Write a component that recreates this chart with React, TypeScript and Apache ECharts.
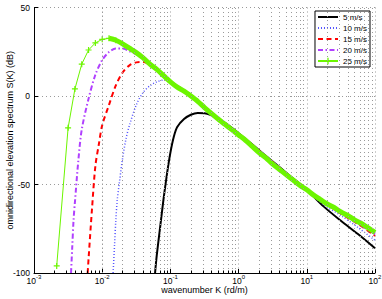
import React, { useEffect, useRef } from "react";
import * as echarts from "echarts";

// log10(K) positions and S(K) in dB
const k5Exp = [-1.225, -1.2, -1.15, -1.1, -1.05, -1.0, -0.95, -0.9, -0.8, -0.7, -0.6, -0.5, -0.4, -0.3, -0.2, -0.1, 0, 0.25, 0.5, 0.75, 1.0, 1.25, 1.5, 1.75, 2.0];
const s5 = [-100, -90, -74, -58, -44, -32, -23, -17.5, -13, -10.6, -9.6, -9.7, -10.9, -12.8, -15.2, -18, -21, -29, -37, -45, -53, -62.5, -70.5, -78, -86];

const k10Exp = [-1.84, -1.82, -1.8, -1.78, -1.75, -1.7, -1.65, -1.6, -1.5, -1.4, -1.3, -1.2, -1.1, -1.0, -0.9, -0.8, -0.7, -0.5, -0.25, 0, 0.25, 0.5, 0.75, 1.0, 1.25, 1.5, 1.75, 2.0];
const s10 = [-100, -85, -70, -59, -49.5, -35, -24, -16.5, -5, 2, 5.8, 8, 9, 8.2, 5.8, 3, 0, -6.3, -14.5, -21, -29, -37, -45, -53.3, -61.5, -67.5, -74.3, -81.5];

const k15Exp = [-2.213, -2.2, -2.15, -2.1, -2.05, -2.0, -1.9, -1.8, -1.7, -1.6, -1.5, -1.4, -1.3, -1.2, -1.1, -1.0, -0.8, -0.6, -0.4, -0.2, 0, 0.25, 0.5, 0.75, 1.0, 1.25, 1.5, 1.75, 2.0];
const s15 = [-100, -92, -64, -39.5, -27.5, -16.5, -5, 6, 13.3, 17.3, 19, 19.2, 17.8, 15.3, 11.8, 8.3, 3, -3, -9.8, -16, -21.3, -29.3, -37.3, -45.3, -53.2, -60, -66.5, -72.3, -79];

const k20Exp = [-2.457, -2.44, -2.42, -2.4, -2.35, -2.3, -2.2, -2.1, -2.0, -1.9, -1.8, -1.7, -1.6, -1.5, -1.4, -1.3, -1.2, -1.0, -0.8, -0.6, -0.4, -0.2, 0, 0.5, 1.0, 1.5, 2.0];
const s20 = [-100, -86, -70, -60, -36.5, -19, -1.5, 12, 20.3, 24.8, 26.8, 26.8, 25.3, 23.5, 21, 18, 15, 8.2, 3.2, -3, -9.8, -16, -21.3, -37.3, -53.2, -66, -78];

const k25Exp = [-2.667, -2.5, -2.4, -2.3, -2.2, -2.1, -2.0, -1.9, -1.8, -1.7, -1.6, -1.5, -1.4, -1.3, -1.2, -1.1, -1.0, -0.9, -0.8, -0.7, -0.6, -0.5, -0.4, -0.3, -0.2, -0.1, 0, 0.1, 0.2, 0.3, 0.4, 0.5, 0.6, 0.7, 0.8, 0.9, 1.0, 1.1, 1.2, 1.3, 1.4, 1.5, 1.6, 1.7, 1.8, 1.9, 2.0];
const s25 = [-96, -18, 4, 18, 26, 30, 32, 32.6, 31.5, 29.5, 27, 24.5, 21.5, 18, 15, 11.5, 8, 5, 2.8, 0, -3, -6.5, -9.8, -13, -16, -19, -22, -25, -28.5, -32, -35, -38.5, -41.5, -44.5, -47.5, -50.5, -53, -56, -58.5, -61, -63, -65.5, -67.5, -70, -72, -74.5, -77];

const legendNames = ["5 m/s", "10 m/s", "15 m/s", "20 m/s", "25 m/s"];
const decades = [-3, -2, -1, 0, 1];
const minorMult = [2, 3, 4, 5, 6, 7, 8, 9];

const FONT = "'Liberation Sans', Arial, sans-serif";
const GREEN = "#6cf500";
const BLUE = "#5555ff";
const PLUS = "path://M4,0H6V4H10V6H6V10H4V6H0V4H4Z";

const toK = (e: number) => Math.pow(10, e);
const pairs = (exps: number[], vals: number[]) => exps.map((e, i) => [toK(e), vals[i]]);

export default function App() {
  const ref = useRef<HTMLDivElement>(null);
  useEffect(() => {
    document.body.style.margin = "0";
    const chart = echarts.init(ref.current!, null, { renderer: "svg" });
    const minorVals: number[] = [];
    decades.forEach((d) => minorMult.forEach((m) => minorVals.push(m * Math.pow(10, d))));
    const greenThin = k25Exp.map((e, i) =>
      e <= -1.8 ? { value: [toK(e), s25[i]] } : { value: [toK(e), s25[i]], symbol: "none" }
    );
    const bandStart = k25Exp.indexOf(-1.9);
    const greenBand = pairs(k25Exp.slice(bandStart), s25.slice(bandStart));
    const gridStyle = { type: [1, 3], color: "#9a9a9a", width: 1 };
    const hidden = { color: "rgba(0,0,0,0)", borderColor: "rgba(0,0,0,0)", borderWidth: 0, opacity: 0 };
    chart.setOption({
      animation: false,
      textStyle: { fontFamily: FONT },
      grid: { left: 34, right: 7, top: 7.5, bottom: 26, containLabel: false, outerBoundsMode: "none" },
      legend: {
        data: legendNames.map((n, i) => (i < 4 ? { name: n, itemStyle: hidden } : { name: n })),
        orient: "vertical",
        right: 12,
        top: 11,
        backgroundColor: "#fff",
        borderColor: "#000",
        borderWidth: 1,
        borderRadius: 0,
        padding: [2, 3, 2, 2],
        itemWidth: 20,
        itemHeight: 8,
        itemGap: 3,
        textStyle: { fontSize: 8, color: "#000", fontFamily: FONT },
      },
      xAxis: {
        type: "log",
        logBase: 10,
        min: 0.001,
        max: 100,
        axisLine: { show: true, onZero: false, lineStyle: { color: "#000", width: 1 } },
        axisTick: { show: true, inside: true, length: 4, lineStyle: { color: "#000" } },
        axisLabel: {
          margin: 1,
          color: "#000",
          formatter: (v: number) => `{b|10}{e|${Math.round(Math.log10(v))}}`,
          rich: {
            b: { fontSize: 8.5, fontFamily: FONT, color: "#000", verticalAlign: "bottom", lineHeight: 11 },
            e: { fontSize: 6, fontFamily: FONT, color: "#000", verticalAlign: "top", lineHeight: 11 },
          },
        },
        splitLine: { show: true, lineStyle: gridStyle },
        name: "wavenumber K (rd/m)",
        nameLocation: "middle",
        nameGap: 12.5,
        nameMoveOverlap: false,
        nameTextStyle: { fontSize: 9, color: "#000", fontFamily: FONT, verticalAlign: "top" },
      },
      yAxis: {
        type: "value",
        min: -100,
        max: 50,
        interval: 50,
        axisLine: { show: true, onZero: false, lineStyle: { color: "#000", width: 1 } },
        axisTick: { show: true, inside: true, length: 4, lineStyle: { color: "#000" } },
        axisLabel: { fontSize: 8.5, color: "#000", margin: 4, fontFamily: FONT },
        splitLine: { show: true, lineStyle: gridStyle },
        name: "omnidirectional elevation spectrum S(K) (dB)",
        nameLocation: "middle",
        nameGap: 20,
        nameMoveOverlap: false,
        nameTextStyle: { fontSize: 9, color: "#000", fontFamily: FONT },
      },
      series: [
        {
          type: "line",
          data: [],
          z: 1,
          silent: true,
          markLine: {
            silent: true,
            symbol: ["none", "none"],
            label: { show: false },
            emphasis: { disabled: true },
            lineStyle: gridStyle,
            data: minorVals.map((v) => ({ xAxis: v })),
          },
        },
        {
          type: "line",
          data: [],
          z: 1,
          silent: true,
          markLine: {
            silent: true,
            symbol: ["none", "none"],
            label: { show: false },
            emphasis: { disabled: true },
            lineStyle: { type: "solid", color: "#000", width: 1 },
            data: minorVals.map((v) => [{ coord: [v, -100] }, { coord: [v, -98.6] }]),
          },
        },
        {
          name: "5 m/s",
          type: "line",
          data: pairs(k5Exp, s5),
          symbol: "none",
          smooth: 0.3,
          lineStyle: { color: "#000", width: 2 },
          itemStyle: { color: "#000" },
        },
        {
          name: "10 m/s",
          type: "line",
          data: pairs(k10Exp, s10),
          symbol: "none",
          smooth: 0.3,
          lineStyle: { color: BLUE, width: 1.5, type: [1, 2] },
          itemStyle: { color: BLUE },
        },
        {
          name: "15 m/s",
          type: "line",
          data: pairs(k15Exp, s15),
          symbol: "none",
          smooth: 0.3,
          lineStyle: { color: "#ff0000", width: 2, type: [5, 3.5] },
          itemStyle: { color: "#ff0000" },
        },
        {
          name: "20 m/s",
          type: "line",
          data: pairs(k20Exp, s20),
          symbol: "none",
          smooth: 0.3,
          lineStyle: { color: "#b040ff", width: 2, type: [5, 2.5, 1.5, 2.5] },
          itemStyle: { color: "#b040ff" },
        },
        {
          name: "25 m/s",
          type: "line",
          data: greenThin,
          symbol: PLUS,
          symbolSize: 6,
          showSymbol: true,
          showAllSymbol: true,
          lineStyle: { color: GREEN, width: 1 },
          itemStyle: { color: GREEN },
        },
        {
          name: "25 m/s",
          type: "line",
          data: greenBand,
          symbol: "none",
          smooth: 0.3,
          lineStyle: { color: GREEN, width: 5 },
          itemStyle: { color: GREEN },
        },
      ],
    });
    return () => chart.dispose();
  }, []);
  return <div ref={ref} style={{ position: "absolute", left: 0, top: 0, width: 382, height: 299 }} />;
}
